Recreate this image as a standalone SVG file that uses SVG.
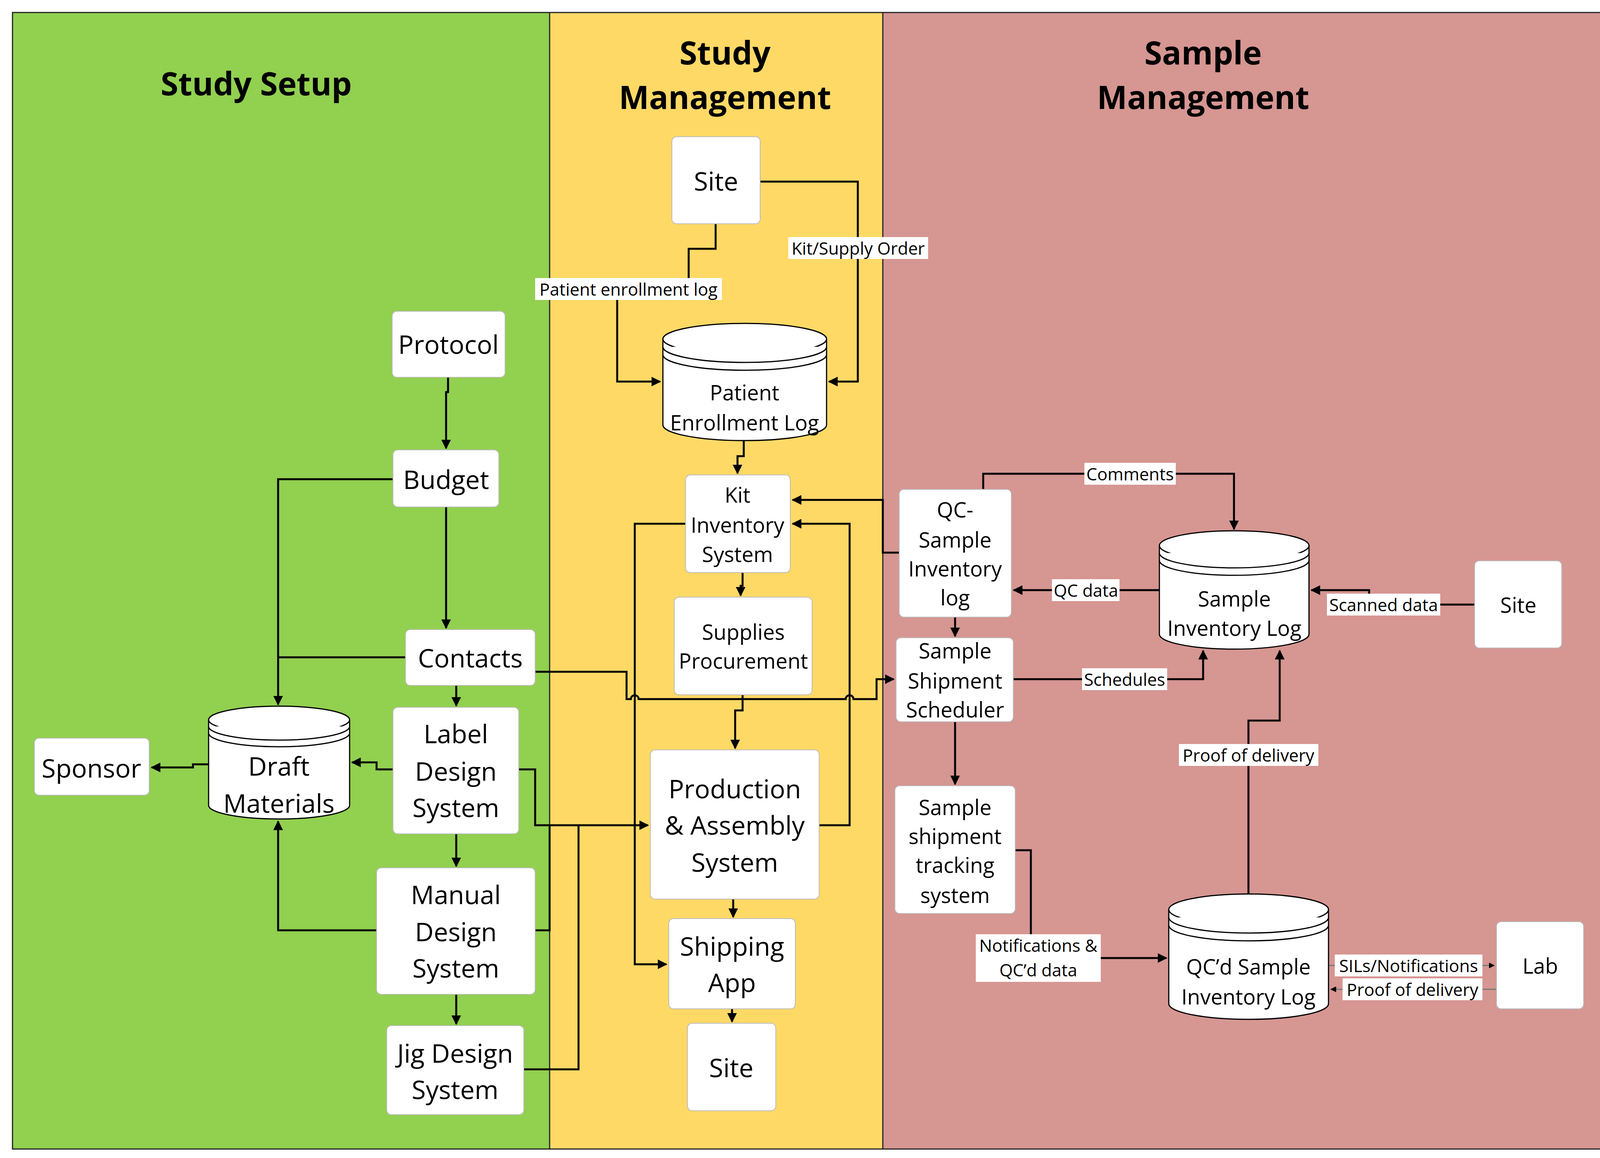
<svg xmlns="http://www.w3.org/2000/svg" width="4163" height="2965" viewBox="0 0 4163 2965">
<style>
.n{fill:#fff;stroke:#bbb;stroke-width:2}
.c{fill:#fff;stroke:#000;stroke-width:3}
.t{font-family:"Open Sans","Liberation Sans",sans-serif;text-anchor:middle;dominant-baseline:central;fill:#000}
.b{font-size:66px}.m{font-size:54px}.s{font-size:44px}
.h{font-size:82px;font-weight:bold}
.l{fill:none;stroke:#000;stroke-width:5}
.lb{fill:#fff}
</style>
<defs><marker id="a" viewBox="0 0 10 10" refX="9" refY="5" markerWidth="5" markerHeight="5" orient="auto"><path d="M0,0L10,5L0,10z" fill="#000"/></marker></defs>
<rect x="0" y="0" width="4163" height="2965" fill="#fff"/>
<rect x="32" y="32" width="1375" height="2910" fill="#92d050"/>
<rect x="1407" y="32" width="853" height="2910" fill="#ffd966"/>
<rect x="2260" y="32" width="1868" height="2910" fill="#d69692"/>
<g fill="none" stroke="#222" stroke-width="3"><rect x="32" y="32" width="4096" height="2910"/><line x1="1407" y1="32" x2="1407" y2="2942"/><line x1="2260" y1="32" x2="2260" y2="2942"/></g>
<text class="t h" x="656" y="212">Study Setup</text>
<text class="t h" x="1856" y="133">Study</text><text class="t h" x="1856" y="247">Management</text>
<text class="t h" x="3080" y="133">Sample</text><text class="t h" x="3080" y="247">Management</text>
<g id="connectors" class="l">
<path d="M1832,573V637H1763V740H1580V977H1690" marker-end="url(#a)"/>
<path d="M1946,465H2196V977H2122" marker-end="url(#a)"/>
<path d="M1904,1128V1168H1888V1212" marker-end="url(#a)"/>
<path d="M1147,966V1004H1142V1148" marker-end="url(#a)"/>
<path d="M1142,1298V1608" marker-end="url(#a)"/>
<path d="M1006,1227H712V1804" marker-end="url(#a)"/>
<path d="M1038,1683H712"/>
<path d="M1168,1755V1807" marker-end="url(#a)"/>
<path d="M1168,2135V2218" marker-end="url(#a)"/>
<path d="M1168,2546V2622" marker-end="url(#a)"/>
<path d="M1006,1970H964V1952H901" marker-end="url(#a)"/>
<path d="M534,1957H494V1965H388" marker-end="url(#a)"/>
<path d="M964,2382H712V2103" marker-end="url(#a)"/>
<path d="M1328,1970H1370V2113H1659" marker-end="url(#a)"/>
<path d="M1370,2382H1407V2113"/>
<path d="M1341,2738H1481V2113"/>
<path d="M1370,1720H1604V1790H1615A10,10 0 0 1 1635,1790H2165A10,10 0 0 1 2185,1790H2244V1739H2288" marker-end="url(#a)"/>
<path d="M1755,1341H1625V2469H1706" marker-end="url(#a)"/>
<path d="M2097,2113H2175V1341H2029" marker-end="url(#a)"/>
<path d="M1901,1466V1500H1896V1525" marker-end="url(#a)"/>
<path d="M1901,1779V1819H1882V1916" marker-end="url(#a)"/>
<path d="M1877,2302V2348" marker-end="url(#a)"/>
<path d="M1874,2583V2616" marker-end="url(#a)"/>
<path d="M2302,1415H2260V1280H2029" marker-end="url(#a)"/>
<path d="M2517,1253V1213H3159V1355" marker-end="url(#a)"/>
<path d="M2968,1511H2595" marker-end="url(#a)"/>
<path d="M3775,1548H3505V1511H3357" marker-end="url(#a)"/>
<path d="M2445,1580V1629" marker-end="url(#a)"/>
<path d="M2594,1739H3080V1666" marker-end="url(#a)"/>
<path d="M2445,1848V2008" marker-end="url(#a)"/>
<path d="M2599,2177H2639V2453H2986" marker-end="url(#a)"/>
<path d="M3196,2289V1845H3276V1666" marker-end="url(#a)"/>
<path d="M3401,2472H3825" stroke="#777" stroke-width="3" marker-end="url(#a)"/>
<path d="M3831,2533H3407" stroke="#777" stroke-width="3" marker-end="url(#a)"/>
</g>
<g id="labels">
<rect class="lb" x="1370" y="712" width="478" height="56"/><text class="t s" x="1609" y="740">Patient enrollment log</text>
<rect class="lb" x="2018" y="607" width="358" height="56"/><text class="t s" x="2197" y="635">Kit/Supply Order</text>
<rect class="lb" x="2776" y="1185" width="234" height="56"/><text class="t s" x="2893" y="1213">Comments</text>
<rect class="lb" x="2693" y="1483" width="173" height="56"/><text class="t s" x="2780" y="1511">QC data</text>
<rect class="lb" x="3397" y="1520" width="290" height="56"/><text class="t s" x="3542" y="1548">Scanned data</text>
<rect class="lb" x="2770" y="1711" width="218" height="56"/><text class="t s" x="2879" y="1739">Schedules</text>
<rect class="lb" x="3018" y="1905" width="357" height="56"/><text class="t s" x="3196" y="1933">Proof of delivery</text>
<rect class="lb" x="2498" y="2392" width="320" height="122"/><text class="t s" x="2658" y="2420">Notifications &amp;</text><text class="t s" x="2658" y="2483">QC’d data</text>
<rect class="lb" x="3417" y="2444" width="378" height="56"/><text class="t s" x="3606" y="2472">SILs/Notifications</text>
<rect class="lb" x="3437" y="2505" width="358" height="56"/><text class="t s" x="3616" y="2533">Proof of delivery</text>
</g>
<g id="site-top"><rect class="n" x="1720" y="350" width="226" height="223" rx="12"/><text class="t b" x="1833" y="462">Site</text></g>
<g id="protocol"><rect class="n" x="1004" y="797" width="289" height="169" rx="12"/><text class="t b" x="1148" y="880">Protocol</text></g>
<g id="budget"><rect class="n" x="1006" y="1152" width="271" height="146" rx="12"/><text class="t b" x="1142" y="1226">Budget</text></g>
<g id="contacts"><rect class="n" x="1038" y="1612" width="332" height="143" rx="12"/><text class="t b" x="1204" y="1683">Contacts</text></g>
<g id="label-design"><rect class="n" x="1006" y="1811" width="322" height="324" rx="12"/><text class="t b" x="1167" y="1877">Label</text><text class="t b" x="1167" y="1973">Design</text><text class="t b" x="1167" y="2066">System</text></g>
<g id="manual-design"><rect class="n" x="964" y="2222" width="406" height="324" rx="12"/><text class="t b" x="1167" y="2289">Manual</text><text class="t b" x="1167" y="2384">Design</text><text class="t b" x="1167" y="2477">System</text></g>
<g id="jig-design"><rect class="n" x="990" y="2626" width="351" height="228" rx="12"/><text class="t b" x="1165" y="2695">Jig Design</text><text class="t b" x="1165" y="2788">System</text></g>
<g id="sponsor"><rect class="n" x="88" y="1890" width="294" height="146" rx="12"/><text class="t b" x="234" y="1965">Sponsor</text></g>
<g id="draft-materials"><path class="c" d="M534,1843V2062A180.5,35 0 0 0 895,2062V1843"/><ellipse class="c" cx="714.5" cy="1843" rx="180.5" ry="35"/><path class="c" fill="none" d="M534,1860A180.5,35 0 0 0 895,1860M534,1877A180.5,35 0 0 0 895,1877"/><text class="t b" x="714" y="1960">Draft</text><text class="t b" x="714" y="2055">Materials</text></g>
<g id="patient-log"><path class="c" d="M1697,868V1088A209,40 0 0 0 2116,1088V868"/><ellipse class="c" cx="1906.5" cy="868" rx="209.5" ry="40"/><path class="c" fill="none" d="M1697,888A209.5,40 0 0 0 2116,888M1697,908A209.5,40 0 0 0 2116,908"/><text class="t m" x="1906" y="1004">Patient</text><text class="t m" x="1906" y="1081">Enrollment Log</text></g>
<g id="kit-inventory"><rect class="n" x="1755" y="1216" width="268" height="250" rx="12"/><text class="t m" x="1888" y="1266">Kit</text><text class="t m" x="1888" y="1343">Inventory</text><text class="t m" x="1888" y="1418">System</text></g>
<g id="supplies"><rect class="n" x="1726" y="1529" width="353" height="250" rx="12"/><text class="t m" x="1903" y="1617">Supplies</text><text class="t m" x="1903" y="1691">Procurement</text></g>
<g id="production"><rect class="n" x="1665" y="1920" width="432" height="382" rx="12"/><text class="t b" x="1881" y="2018">Production</text><text class="t b" x="1881" y="2111">&amp; Assembly</text><text class="t b" x="1881" y="2206">System</text></g>
<g id="shipping"><rect class="n" x="1712" y="2352" width="324" height="231" rx="12"/><text class="t b" x="1874" y="2421">Shipping</text><text class="t b" x="1874" y="2514">App</text></g>
<g id="site-bottom"><rect class="n" x="1760" y="2620" width="226" height="224" rx="12"/><text class="t b" x="1872" y="2732">Site</text></g>
<g id="qc-sample"><rect class="n" x="2302" y="1253" width="287" height="327" rx="12"/><text class="t m" x="2445" y="1304">QC-</text><text class="t m" x="2445" y="1381">Sample</text><text class="t m" x="2445" y="1455">Inventory</text><text class="t m" x="2445" y="1529">log</text></g>
<g id="scheduler"><rect class="n" x="2294" y="1633" width="300" height="215" rx="12"/><text class="t m" x="2445" y="1665">Sample</text><text class="t m" x="2445" y="1742">Shipment</text><text class="t m" x="2445" y="1816">Scheduler</text></g>
<g id="tracking"><rect class="n" x="2291" y="2012" width="308" height="327" rx="12"/><text class="t m" x="2445" y="2066">Sample</text><text class="t m" x="2445" y="2140">shipment</text><text class="t m" x="2445" y="2214">tracking</text><text class="t m" x="2445" y="2291">system</text></g>
<g id="sample-log"><path class="c" d="M2968,1397V1624A191.5,38 0 0 0 3351,1624V1397"/><ellipse class="c" cx="3159.5" cy="1397" rx="191.5" ry="38"/><path class="c" fill="none" d="M2968,1416A191.5,38 0 0 0 3351,1416M2968,1435A191.5,38 0 0 0 3351,1435"/><text class="t m" x="3160" y="1532">Sample</text><text class="t m" x="3160" y="1607">Inventory Log</text></g>
<g id="site-right"><rect class="n" x="3775" y="1436" width="223" height="223" rx="12"/><text class="t m" x="3887" y="1548">Site</text></g>
<g id="qcd-log"><path class="c" d="M2992,2329V2570A204.5,40 0 0 0 3401,2570V2329"/><ellipse class="c" cx="3196.5" cy="2329" rx="204.5" ry="40"/><path class="c" fill="none" d="M2992,2349A204.5,40 0 0 0 3401,2349M2992,2369A204.5,40 0 0 0 3401,2369"/><text class="t m" x="3196" y="2474">QC’d Sample</text><text class="t m" x="3196" y="2551">Inventory Log</text></g>
<g id="lab"><rect class="n" x="3831" y="2360" width="223" height="223" rx="12"/><text class="t m" x="3943" y="2472">Lab</text></g>
</svg>
